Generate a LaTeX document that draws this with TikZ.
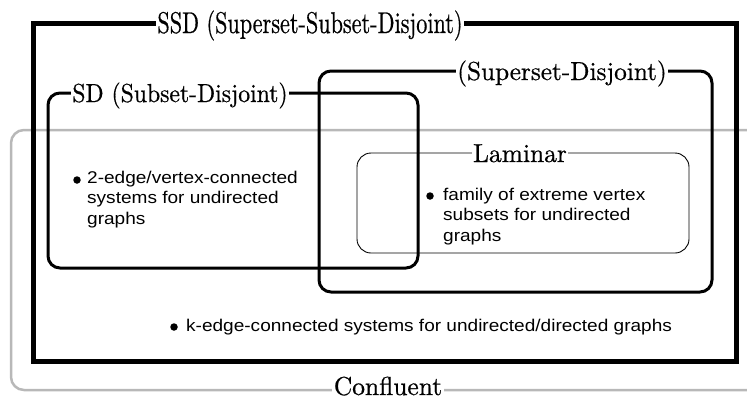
\documentclass[tikz,border=0pt]{standalone}
\usepackage{fontspec}
\usepackage{graphicx}
\newfontfamily\sfx{Liberation Sans}[FakeStretch=1.12]
\newfontfamily\serc{lmroman10-regular.otf}[FakeBold=0.6]
\newcommand{\cnd}[2]{\scalebox{#1}[1]{#2}}
\begin{document}
\begin{tikzpicture}[x=1pt,y=-1pt,
  lbl/.style={fill=white, inner xsep=1.5pt, inner ysep=0pt, anchor=base},
  txt/.style={font=\sfx\fontsize{17}{20.5}\selectfont, align=left, anchor=north west, inner sep=0pt},
  dot/.style={circle, fill=black, inner sep=0pt, minimum size=7.5pt},
  greybox/.style={draw=black!28, line width=2.5pt, rounded corners=13pt},
  midbox/.style={draw=black, line width=3pt, rounded corners=12pt},
  thinbox/.style={draw=black, line width=0.9pt, rounded corners=14pt},
  outerbox/.style={draw=black, line width=5pt}
  ]
\useasboundingbox (0,0) rectangle (747,399);
\clip (0,0) rectangle (747,399);
% Confluent (grey)
\draw[greybox] (11,130) rectangle (780,390);
% SSD outer
\draw[outerbox] (33,23) rectangle (736,361);
% SD
\draw[midbox] (48,93) rectangle (418,268);
% Superset-Disjoint
\draw[midbox] (319,71) rectangle (712,292);
% Laminar
\draw[thinbox] (357,153) rectangle (689,253);

% labels
\node[lbl, font=\serc\fontsize{30}{30}\selectfont] (tssd) at (310,33) {\cnd{0.74}{SSD (Superset-Subset-Disjoint)}};
\node[lbl, font=\serc\fontsize{26}{26}\selectfont] (tsd) at (180,102) {\cnd{0.91}{SD (Subset-Disjoint)}};
\node[lbl, font=\serc\fontsize{26}{26}\selectfont] (tsup) at (562,80) {\cnd{0.97}{(Superset-Disjoint)}};
\node[lbl, font=\serc\fontsize{26}{26}\selectfont] (tlam) at (520,162) {\cnd{0.98}{Laminar}};
\node[lbl, font=\serc\fontsize{26}{26}\selectfont] (tcon) at (388,395) {\cnd{0.98}{Confluent}};

% texts
\node[dot] (b1) at (77,180) {};
\node[txt] (x1) at (87,170.5) {2-edge/vertex-connected\\systems for undirected\\graphs};
\node[dot] (b2) at (430,196) {};
\node[txt] (x2) at (443,187.5) {family of extreme vertex\\subsets for undirected\\graphs};
\node[dot] (b3) at (174,327) {};
\node[txt] (x3) at (186,318.5) {k-edge-connected systems for undirected/directed graphs};
\end{tikzpicture}
\end{document}
